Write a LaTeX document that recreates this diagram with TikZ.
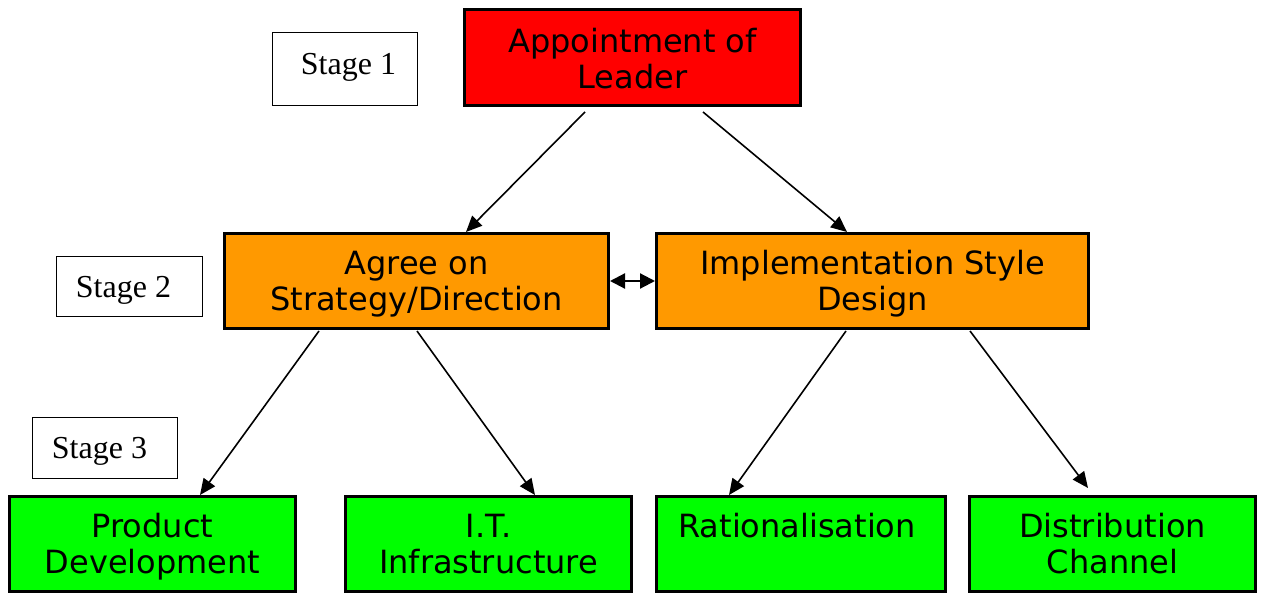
\documentclass[tikz,border=0pt]{standalone}
\usepackage{fontspec}
\usetikzlibrary{arrows.meta,calc}
\newfontfamily\boxfontfam{DejaVu Sans}
\newfontfamily\stagefontfam{Liberation Serif}
\definecolor{leadred}{HTML}{FF0000}
\definecolor{stageorange}{HTML}{FF9900}
\definecolor{taskgreen}{HTML}{00FF00}
\tikzset{
  mainbox/.style={draw=black, line width=1.5pt, inner sep=0pt, rectangle},
  stagebox/.style={draw=black, line width=0.5pt, fill=white, inner sep=0pt, rectangle},
  boxtext/.style={font=\boxfontfam\fontsize{16}{18}\selectfont, inner sep=0pt, anchor=base},
  stagetext/.style={font=\stagefontfam\fontsize{16}{18}\selectfont, inner sep=0pt, anchor=base west},
  arr/.style={-{Triangle[length=8pt,width=7pt]}, line width=0.8pt},
  dblarr/.style={{Triangle[length=7.5pt,width=7.5pt]}-{Triangle[length=7.5pt,width=7.5pt]}, line width=1.1pt},
}
\newcommand{\twolines}[2]{\begin{tabular}[t]{@{}c@{}}#1\\#2\end{tabular}}
\begin{document}
\begin{tikzpicture}[x=0.5pt,y=-0.5pt]
\useasboundingbox (0,0) rectangle (1264,593);
% boxes (sizes in pt: 1 px = 0.5pt)
\node[mainbox, fill=leadred, minimum width=168pt, minimum height=48pt] (lead) at (632.5,57.5) {};
\node[mainbox, fill=stageorange, minimum width=192pt, minimum height=47.5pt] (agree) at (416.5,281) {};
\node[mainbox, fill=stageorange, minimum width=216pt, minimum height=47.5pt] (impl) at (872.5,281) {};
\node[mainbox, fill=taskgreen, minimum width=143pt, minimum height=47.5pt] (prod) at (152.5,544) {};
\node[mainbox, fill=taskgreen, minimum width=143pt, minimum height=47.5pt] (it) at (488.5,544) {};
\node[mainbox, fill=taskgreen, minimum width=144.5pt, minimum height=47.5pt] (rat) at (801,544) {};
\node[mainbox, fill=taskgreen, minimum width=143pt, minimum height=47.5pt] (dist) at (1112.5,544) {};
% stage boxes
\node[stagebox, minimum width=72.5pt, minimum height=36.5pt] (s1) at (344.5,69.5) {};
\node[stagebox, minimum width=73pt, minimum height=30pt] (s2) at (129,287) {};
\node[stagebox, minimum width=72.5pt, minimum height=30.5pt] (s3) at (104.5,447.5) {};
% texts
\node[boxtext] (leadtext) at ($(lead.north)+(0,45)$) {\twolines{Appointment of}{Leader}};
\node[boxtext] (agreetext) at ($(agree.north)+(0,43)$) {\twolines{Agree on}{Strategy/Direction}};
\node[boxtext] (impltext) at ($(impl.north)+(0,43)$) {\twolines{Implementation Style}{Design}};
\node[boxtext] (prodtext) at ($(prod.north)+(0,42)$) {\twolines{Product}{Development}};
\node[boxtext] (ittext) at ($(it.north)+(0,42)$) {\twolines{I.T.}{Infrastructure}};
\node[boxtext] (rattext) at ($(rat.north)+(-4,42)$) {Rationalisation};
\node[boxtext] (disttext) at ($(dist.north)+(0,42)$) {\twolines{Distribution}{Channel}};
\node[stagetext] (s1text) at ($(s1.north west)+(29,42)$) {Stage 1};
\node[stagetext] (s2text) at ($(s2.north west)+(20,41)$) {Stage 2};
\node[stagetext] (s3text) at ($(s3.north west)+(20,42)$) {Stage 3};
% connectors
\draw[arr] ($(lead.south)+(-47.5,5)$) -- ($(agree.north)+(49.5,0)$);
\draw[arr] ($(lead.south)+(70.5,5)$) -- ($(impl.north)+(-25.5,0)$);
\draw[dblarr] (agree.east) -- (impl.west);
\draw[arr] ($(agree.south)+(-97.5,1)$) -- ($(prod.north)+(47.5,0)$);
\draw[arr] ($(agree.south)+(0.5,1)$) -- ($(it.north)+(46.5,0)$);
\draw[arr] ($(impl.south)+(-26.5,1)$) -- ($(rat.north)+(-72,0)$);
\draw[arr] ($(impl.south)+(97.5,1)$) -- ($(dist.north)+(-24.5,-7)$);
\end{tikzpicture}
\end{document}
